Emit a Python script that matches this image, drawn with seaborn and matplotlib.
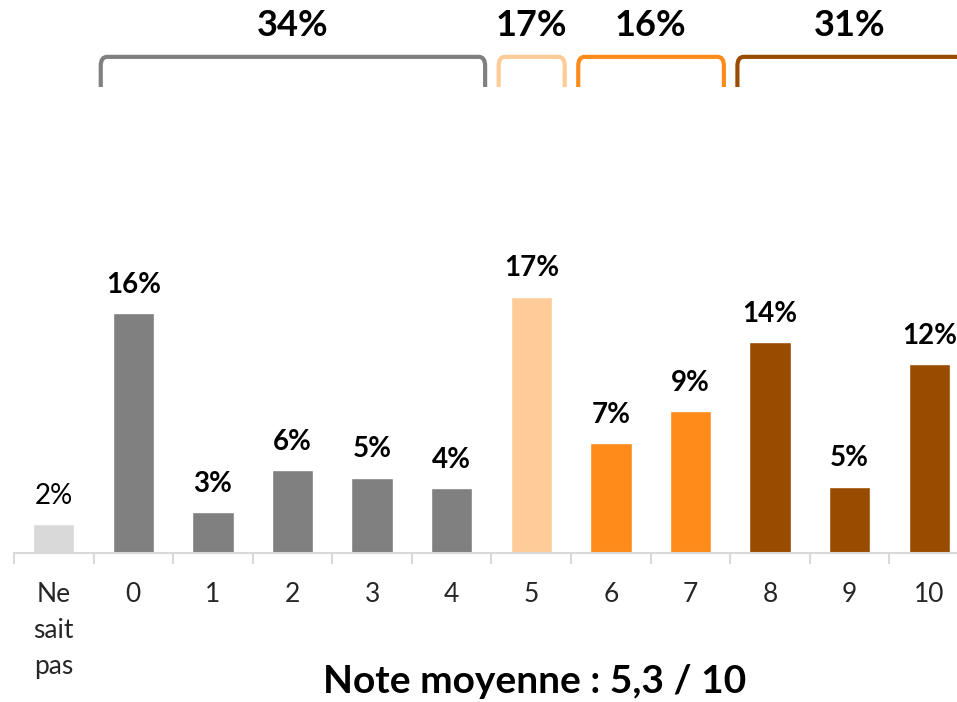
import numpy as np
import pandas as pd
import matplotlib
matplotlib.use("Agg")
import matplotlib.pyplot as plt
from matplotlib.path import Path
from matplotlib.patches import PathPatch
import seaborn as sns

categories = ["Ne\nsait\npas", "0", "1", "2", "3", "4", "5", "6", "7", "8", "9", "10"]
values = [1.9, 15.9, 2.7, 5.5, 5.0, 4.3, 17.0, 7.3, 9.4, 14.0, 4.4, 12.5]
value_labels = ["2%", "16%", "3%", "6%", "5%", "4%", "17%", "7%", "9%", "14%", "5%", "12%"]
bar_colors = ["#d9d9d9"] + ["#808080"] * 5 + ["#ffcc99"] + ["#ff8c1a"] * 2 + ["#994c00"] * 3

# Regroupements (indices de début et fin) et totaux
group_start = [1, 6, 7, 9]
group_end = [5, 6, 8, 11]
group_labels = ["34%", "17%", "16%", "31%"]
group_colors = ["#808080", "#ffcc99", "#ff8c1a", "#994c00"]

title = "Note moyenne : 5,3 / 10"

sns.set_theme(style="white")
plt.rcParams["font.family"] = ["Lato", "DejaVu Sans"]

df = pd.DataFrame({"cat": categories, "val": values})

fig = plt.figure(figsize=(9.57, 7.02), dpi=100)
# axes : x -0.5..11.5 -> 14..969 px, y 0 -> 553 px depuis le haut
ax = fig.add_axes([14 / 957, (702 - 553) / 702, 955 / 957, 553 / 702])

sns.barplot(data=df, x="cat", y="val", hue="cat", palette=bar_colors,
            legend=False, width=0.52, ax=ax, saturation=1)

ax.set_xlim(-0.5, 11.5)
ax.set_ylim(0, 36.67)
ax.set_xlabel("")
ax.set_ylabel("")
ax.set_yticks([])
for s in ["top", "right", "left"]:
    ax.spines[s].set_visible(False)
ax.spines["bottom"].set_color("#d9d9d9")
ax.spines["bottom"].set_linewidth(1.5)

# graduations aux limites des catégories
ax.set_xticks(np.arange(-0.5, 11.5, 1.0), minor=True)
ax.tick_params(axis="x", which="minor", length=8, width=1.5, color="#d9d9d9",
               direction="out", bottom=True)
ax.tick_params(axis="x", which="major", length=0, pad=21, labelsize=19)
plt.setp(ax.get_xticklabels(), linespacing=1.55, va="top")

# étiquettes de valeurs
for i, (v, lab) in enumerate(zip(values, value_labels)):
    weight = "normal" if i == 0 else "bold"
    ax.text(i, v + 1.35, lab, ha="center", va="baseline",
            fontsize=20, fontweight=weight, color="black")

# accolades des groupes
y_low, y_high = 30.9, 32.9
r = 0.08
for s, e, lab, col in zip(group_start, group_end, group_labels, group_colors):
    x0 = s - 0.5 + 0.09
    x1 = e + 0.5 - 0.08
    rv = 0.6
    verts = [(x0, y_low), (x0, y_high - rv), (x0, y_high), (x0 + r, y_high),
             (x1 - r, y_high), (x1, y_high), (x1, y_high - rv), (x1, y_low)]
    codes = [Path.MOVETO, Path.LINETO, Path.CURVE3, Path.CURVE3,
             Path.LINETO, Path.CURVE3, Path.CURVE3, Path.LINETO]
    ax.add_patch(PathPatch(Path(verts, codes), fill=False, edgecolor=col,
                           linewidth=3, clip_on=False, capstyle="butt"))
    ax.text((s + e) / 2, 34.95, lab, ha="center", va="center",
            fontsize=26, fontweight="bold", color="black")

fig.text(0.559, 0.029, title, ha="center", va="center",
         fontsize=28, fontweight="bold", color="black")

fig.savefig("out.png", dpi=100)
